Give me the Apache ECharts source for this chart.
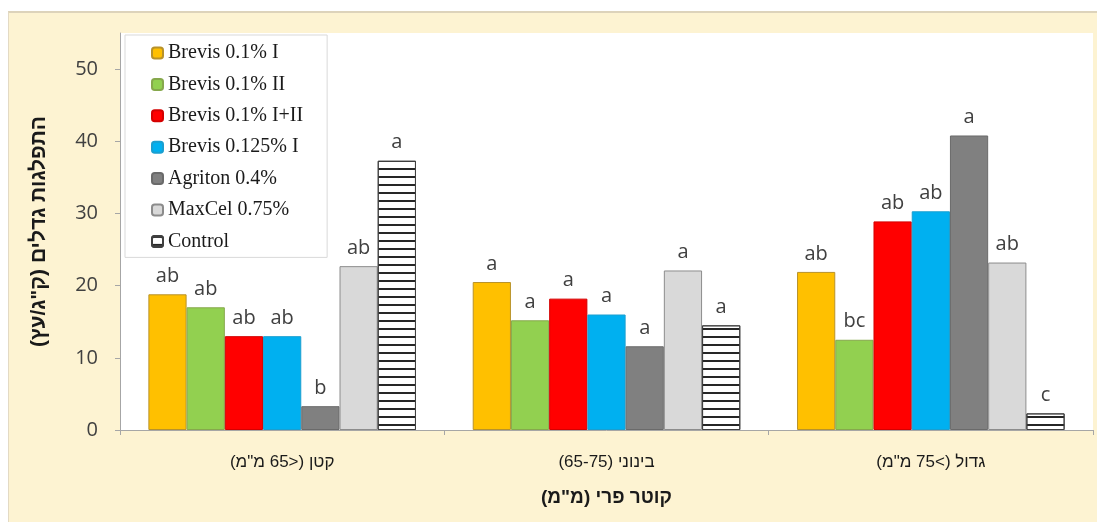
<!DOCTYPE html>
<html><head><meta charset="utf-8">
<script src="https://cdn.jsdelivr.net/npm/echarts@6/dist/echarts.min.js"></script>
<style>
html,body{margin:0;padding:0;background:#fff;}
#bg{position:absolute;left:8px;top:11px;width:1089px;height:511px;background:#FDF3D2;border-top:2px solid #ddd3bb;border-left:1px solid #e3dac4;box-sizing:border-box;}
#chart{position:absolute;left:0;top:0;width:1097px;height:522px;}
</style></head>
<body>
<div id="bg"></div>
<div id="chart" dir="rtl"></div>
<script>
const categories = ['קטן (<65 מ"מ)', 'בינוני (65-75)', 'גדול (>75 מ"מ)'];
const seriesNames = ['Brevis 0.1% I', 'Brevis 0.1% II', 'Brevis 0.1% I+II', 'Brevis 0.125% I', 'Agriton 0.4%', 'MaxCel 0.75%', 'Control'];
const brevis01I    = [18.8, 20.5, 21.9];
const brevis01II   = [17.0, 15.2, 12.5];
const brevis01I_II = [13.0, 18.2, 28.9];
const brevis0125I  = [13.0, 16.0, 30.3];
const agriton04    = [3.3, 11.6, 40.8];
const maxcel075    = [22.7, 22.1, 23.2];
const control      = [37.3, 14.5, 2.3];
const letters01I    = ['ab', 'a', 'ab'];
const letters01II   = ['ab', 'a', 'bc'];
const letters01I_II = ['ab', 'a', 'ab'];
const letters0125I  = ['ab', 'a', 'ab'];
const lettersAgr    = ['b', 'a', 'a'];
const lettersMax    = ['ab', 'a', 'ab'];
const lettersCtl    = ['a', 'a', 'c'];
const yTicks = [0, 10, 20, 30, 40, 50];
const yAxisTitle = 'התפלגות גדלים (ק"ג/עץ)';
const xAxisTitle = 'קוטר פרי (מ"מ)';

const values = [brevis01I, brevis01II, brevis01I_II, brevis0125I, agriton04, maxcel075, control];
const letters = [letters01I, letters01II, letters01I_II, letters0125I, lettersAgr, lettersMax, lettersCtl];
const styles = [
  {color: '#FFC000', borderColor: '#b8922a', borderWidth: 1},
  {color: '#92D050', borderColor: '#86a84c', borderWidth: 1},
  {color: '#FF0000', borderColor: '#d40000', borderWidth: 1},
  {color: '#00B0F0', borderColor: '#1a9fd0', borderWidth: 1},
  {color: '#808080', borderColor: '#6a6a6a', borderWidth: 1},
  {color: '#D9D9D9', borderColor: '#8c8c8c', borderWidth: 1},
  {color: '#ffffff', borderColor: '#404040', borderWidth: 1,
   decal: {symbol: 'rect', symbolSize: 1, dashArrayX: [1, 0], dashArrayY: [2, 5.5], rotation: 0, color: '#262626'}}
];

const series = values.map((v, i) => ({
  name: seriesNames[i],
  type: 'bar',
  data: v,
  barGap: '0%',
  barCategoryGap: '17.5%',
  itemStyle: styles[i],
  label: {
    show: true, position: 'top', distance: 8,
    formatter: p => letters[i][p.dataIndex],
    fontFamily: 'Open Sans', fontSize: 20, color: '#404040'
  }
}));

const chart = echarts.init(document.getElementById('chart'));
chart.setOption({
  animation: false,
  backgroundColor: 'transparent',
  grid: {left: 120, right: 4, top: 33, bottom: 92, show: true, backgroundColor: '#ffffff', borderWidth: 0},
  legend: {
    orient: 'vertical', left: 125, top: 35,
    data: seriesNames,
    itemWidth: 11, itemHeight: 11, itemGap: 11.4,
    backgroundColor: '#ffffff', borderColor: '#d9d9d9', borderWidth: 1,
    padding: [8, 24, 6, 26],
    textStyle: {fontFamily: 'Liberation Serif', fontSize: 20, lineHeight: 20, color: '#1a1a1a'}
  },
  xAxis: {
    type: 'category', data: categories,
    axisLine: {lineStyle: {color: '#a6a6a6'}},
    axisTick: {show: true, length: 5, lineStyle: {color: '#a6a6a6'}},
    axisLabel: {fontFamily: 'Liberation Sans', fontSize: 17, color: '#1a1a1a', margin: 24},
    name: xAxisTitle, nameLocation: 'middle', nameGap: 58,
    nameTextStyle: {fontFamily: 'Liberation Sans', fontSize: 19, fontWeight: 'bold', color: '#1a1a1a'}
  },
  yAxis: {
    type: 'value', min: 0, max: 55, interval: 10,
    axisLine: {show: true, lineStyle: {color: '#a6a6a6'}},
    axisTick: {show: true, length: 5, customValues: yTicks, lineStyle: {color: '#a6a6a6'}},
    axisLabel: {customValues: yTicks, fontFamily: 'Open Sans', fontSize: 20, color: '#404040', margin: 22},
    splitLine: {show: false},
    name: yAxisTitle, nameLocation: 'middle', nameRotate: 90, nameGap: 70,
    nameTextStyle: {fontFamily: 'Liberation Sans', fontSize: 21, fontWeight: 'bold', color: '#1a1a1a'}
  },
  series: series
});
</script>
</body></html>
